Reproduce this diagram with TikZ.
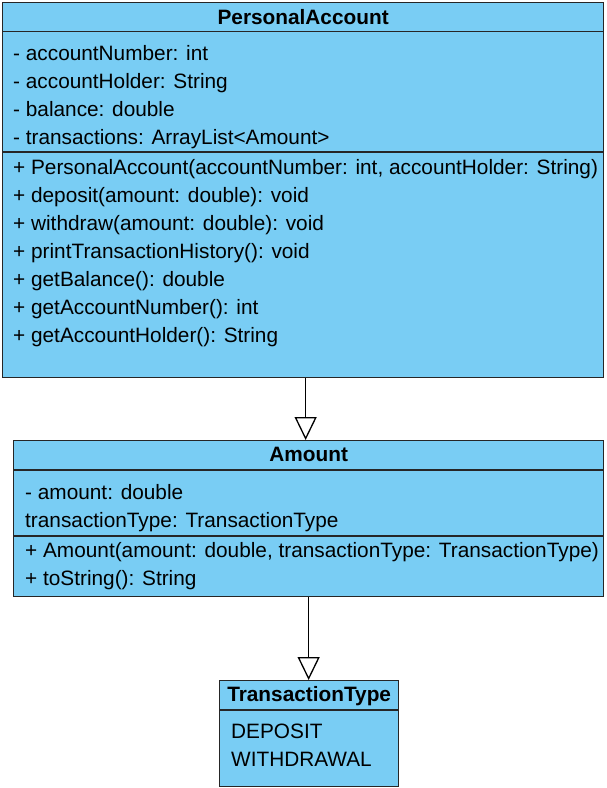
\documentclass[tikz,border=0pt]{standalone}
\usepackage{fontspec}
\setmainfont{Liberation Sans}
\usepackage{xcolor}
\usepackage{tikz}
\usetikzlibrary{positioning,%
  arrows.meta,%
  calc
}
\definecolor{classblue}{RGB}{121,205,244}

\begin{document}
\begin{tikzpicture}[x=1pt,y=-1pt,
    classbox/.style={draw=black!85, line width=1.3pt, fill=classblue, anchor=north west, inner sep=0pt},
    sepline/.style={draw=black!85, line width=1.3pt},
    member/.style={anchor=base west, inner sep=0pt, font=\fontsize{20.8}{24}\selectfont},
    classname/.style={anchor=base, inner sep=0pt, font=\fontsize{20.8}{24}\selectfont\bfseries},
    inherit/.style={draw=black, line width=1.3pt, -{Triangle[width=22pt,length=23pt,fill=white]}}]
            % Platzhalter
            \useasboundingbox (0,0) rectangle (606,788);

            % Klassen
            \node[classbox, minimum width=601pt, minimum height=375pt] (pa) at (2,2) {};
            \node[classbox, minimum width=590pt, minimum height=156pt] (am) at (13,440) {};
            \node[classbox, minimum width=179pt, minimum height=106pt] (tt) at (219,680) {};

            \draw[sepline] (pa.west |- 0,31.5) -- (pa.east |- 0,31.5);
            \draw[sepline] (pa.west |- 0,152) -- (pa.east |- 0,152);
            \draw[sepline] (am.west |- 0,470) -- (am.east |- 0,470);
            \draw[sepline] (am.west |- 0,536) -- (am.east |- 0,536);
            \draw[sepline] (tt.west |- 0,710) -- (tt.east |- 0,710);

            \node[classname] (pa-name) at (pa.north |- 0,24) {PersonalAccount};
            \node[classname] (am-name) at (am.north |- 0,461) {Amount};
            \node[classname] (tt-name) at (tt.north |- 0,701) {TransactionType};

            % Attribute und Methoden
            \foreach \t [count=\i] in {{- accountNumber: int}, {- accountHolder: String},
                {- balance: double}, {- transactions: ArrayList<Amount>}}
                \node[member] (pa-attr\i) at (13,32+28*\i) {\t};
            \foreach \t [count=\i] in {{+ PersonalAccount(accountNumber: int, accountHolder: String)},
                {+ deposit(amount: double): void}, {+ withdraw(amount: double): void},
                {+ printTransactionHistory(): void}, {+ getBalance(): double},
                {+ getAccountNumber(): int}, {+ getAccountHolder(): String}}
                \node[member] (pa-op\i) at (13,146+28*\i) {\t};

            \foreach \t [count=\i] in {{- amount: double}, {transactionType: TransactionType}}
                \node[member] (am-attr\i) at (25,471+28*\i) {\t};
            \foreach \t [count=\i] in {{+ Amount(amount: double, transactionType: TransactionType)},
                {+ toString(): String}}
                \node[member] (am-op\i) at (25,529+28*\i) {\t};

            \foreach \t [count=\i] in {DEPOSIT, WITHDRAWAL}
                \node[member] (tt-val\i) at (231,710+28*\i) {\t};

            % Vererbung
            \draw[inherit] ([xshift=2.5pt]pa.south) -- ([xshift=2.5pt]pa.south |- am.north);
            \draw[inherit] (am.south) -- (am.south |- tt.north);
        \end{tikzpicture}
\end{document}
